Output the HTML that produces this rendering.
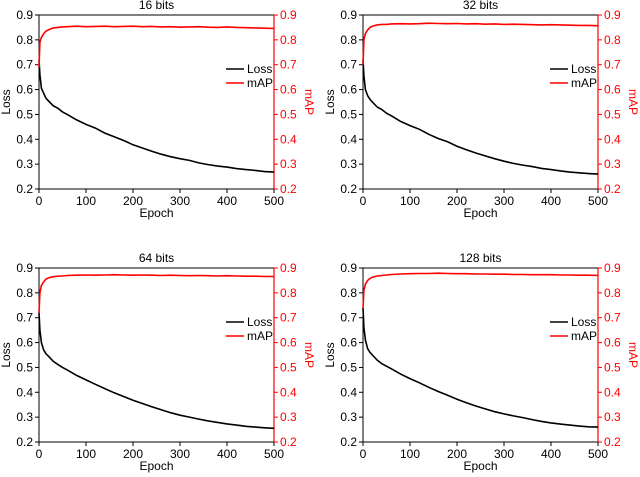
<!DOCTYPE html>
<html><head><meta charset="utf-8"><style>
body{margin:0;background:#fff;font-family:"Liberation Sans",Arial,sans-serif}
svg{display:block}
</style></head><body>
<svg id="c" width="640" height="477"></svg>
<script>
const epochs=[0,2,5,10,15,20,30,40,50,60,80,100,120,140,160,180,200,220,240,260,280,300,320,340,360,380,400,420,440,460,480,500];
const titles=["16 bits","32 bits","64 bits","128 bits"];
const loss16=[0.72,0.66,0.605,0.585,0.565,0.555,0.535,0.525,0.51,0.5,0.478,0.46,0.445,0.425,0.41,0.395,0.378,0.365,0.352,0.34,0.33,0.322,0.315,0.305,0.298,0.292,0.288,0.282,0.278,0.275,0.27,0.268];
const loss32=[0.72,0.655,0.6,0.575,0.56,0.55,0.53,0.52,0.505,0.495,0.472,0.455,0.44,0.42,0.403,0.39,0.372,0.358,0.345,0.333,0.322,0.312,0.303,0.296,0.29,0.283,0.278,0.273,0.268,0.265,0.262,0.26];
const loss64=[0.72,0.65,0.6,0.57,0.555,0.545,0.525,0.512,0.5,0.49,0.468,0.45,0.432,0.415,0.398,0.383,0.368,0.355,0.342,0.33,0.318,0.308,0.3,0.292,0.285,0.279,0.273,0.268,0.263,0.26,0.257,0.255];
const loss128=[0.74,0.66,0.61,0.575,0.56,0.55,0.53,0.515,0.505,0.495,0.473,0.455,0.438,0.42,0.403,0.388,0.372,0.358,0.345,0.333,0.322,0.313,0.305,0.298,0.29,0.283,0.277,0.272,0.268,0.264,0.261,0.26];
const map16=[0.69,0.79,0.81,0.825,0.835,0.84,0.848,0.85,0.852,0.853,0.855,0.853,0.854,0.855,0.853,0.854,0.855,0.853,0.854,0.852,0.853,0.851,0.852,0.853,0.851,0.85,0.852,0.85,0.849,0.848,0.847,0.846];
const map32=[0.70,0.8,0.825,0.84,0.85,0.855,0.86,0.862,0.862,0.864,0.865,0.864,0.865,0.867,0.866,0.865,0.866,0.864,0.865,0.863,0.864,0.862,0.863,0.862,0.861,0.86,0.861,0.86,0.859,0.858,0.858,0.857];
const map64=[0.72,0.8,0.83,0.845,0.855,0.86,0.865,0.867,0.868,0.87,0.871,0.872,0.871,0.872,0.873,0.872,0.871,0.872,0.871,0.87,0.871,0.87,0.869,0.87,0.869,0.868,0.869,0.868,0.867,0.867,0.866,0.866];
const map128=[0.74,0.81,0.835,0.85,0.858,0.863,0.868,0.87,0.872,0.874,0.876,0.877,0.878,0.878,0.879,0.878,0.877,0.877,0.876,0.876,0.875,0.875,0.874,0.874,0.873,0.873,0.873,0.872,0.872,0.871,0.871,0.87];
const xTicks=[0,100,200,300,400,500];
const yTicks=[0.2,0.3,0.4,0.5,0.6,0.7,0.8,0.9];
const lossSeries=[loss16,loss32,loss64,loss128];
const mapSeries=[map16,map32,map64,map128];
const boxes=[[39,15],[363,15],[39,268],[363,268]];
const W=235,H=174;
const svg=document.getElementById('c');
const NS='http://www.w3.org/2000/svg';
function mk(tag,attrs,parent,text){const e=document.createElementNS(NS,tag);for(const k in attrs)e.setAttribute(k,attrs[k]);if(text!==undefined)e.textContent=text;parent.appendChild(e);return e;}
boxes.forEach((b,i)=>{
  const [L,T]=b;
  const g=mk('g',{},svg);
  
  
  const xs=v=>L+v/500*W;
  const ys=v=>T+H-(v-0.2)/0.7*H;
  const t=mk('text',{x:L+W/2,y:T-6,'text-anchor':'middle','font-size':12},g,titles[i]);
  
  
  // axes
  mk('rect',{x:L,y:T,width:W,height:H,fill:'none',stroke:'#000','stroke-width':1},g);
  mk('line',{x1:L+W,y1:T,x2:L+W,y2:T+H,stroke:'#f00','stroke-width':1.2},g);
  yTicks.forEach(v=>{
    const y=ys(v);
    mk('line',{x1:L-4,y1:y,x2:L,y2:y,stroke:'#000'},g);
    const a=mk('text',{x:L-6,y:y+4,'text-anchor':'end','font-size':12},g,v.toFixed(1));
    
    
    mk('line',{x1:L+W,y1:y,x2:L+W+4,y2:y,stroke:'#f00'},g);
    const r=mk('text',{x:L+W+6,y:y+4,'font-size':12,fill:'#f00'},g,v.toFixed(1));
    
    
  });
  xTicks.forEach(v=>{
    const x=xs(v);
    mk('line',{x1:x,y1:T+H,x2:x,y2:T+H+4,stroke:'#000'},g);
    const a=mk('text',{x:x,y:T+H+16,'text-anchor':'middle','font-size':12},g,v);
    
    
  });
  const xl=mk('text',{x:L+W/2,y:T+H+28,'text-anchor':'middle','font-size':12},g,'Epoch');
  
  
  const yl=mk('text',{x:0,y:0,'text-anchor':'middle','font-size':12,transform:`translate(${L-29},${T+H/2}) rotate(-90)`},g,'Loss');
  
  
  const yr=mk('text',{x:0,y:0,'text-anchor':'middle','font-size':12,fill:'#f00',transform:`translate(${L+W+31},${T+H/2}) rotate(90)`},g,'mAP');
  
  
  const lp=lossSeries[i].map((v,k)=>xs(epochs[k]).toFixed(1)+','+ys(v).toFixed(1)).join(' ');
  const l1=mk('polyline',{points:lp,fill:'none',stroke:'#000','stroke-width':1.6},g);
  
  
  const mp=mapSeries[i].map((v,k)=>xs(epochs[k]).toFixed(1)+','+ys(v).toFixed(1)).join(' ');
  const l2=mk('polyline',{points:mp,fill:'none',stroke:'#f00','stroke-width':1.6},g);
  
  
  // legend
  const lg=mk('g',{},g);
  
  
  mk('line',{x1:L+W-48,y1:T+54,x2:L+W-30,y2:T+54,stroke:'#000','stroke-width':1.6},lg);
  mk('text',{x:L+W-27,y:T+58,'font-size':12},lg,'Loss');
  mk('line',{x1:L+W-48,y1:T+68,x2:L+W-30,y2:T+68,stroke:'#f00','stroke-width':1.6},lg);
  mk('text',{x:L+W-27,y:T+72,'font-size':12},lg,'mAP');
});
</script>
</body></html>
